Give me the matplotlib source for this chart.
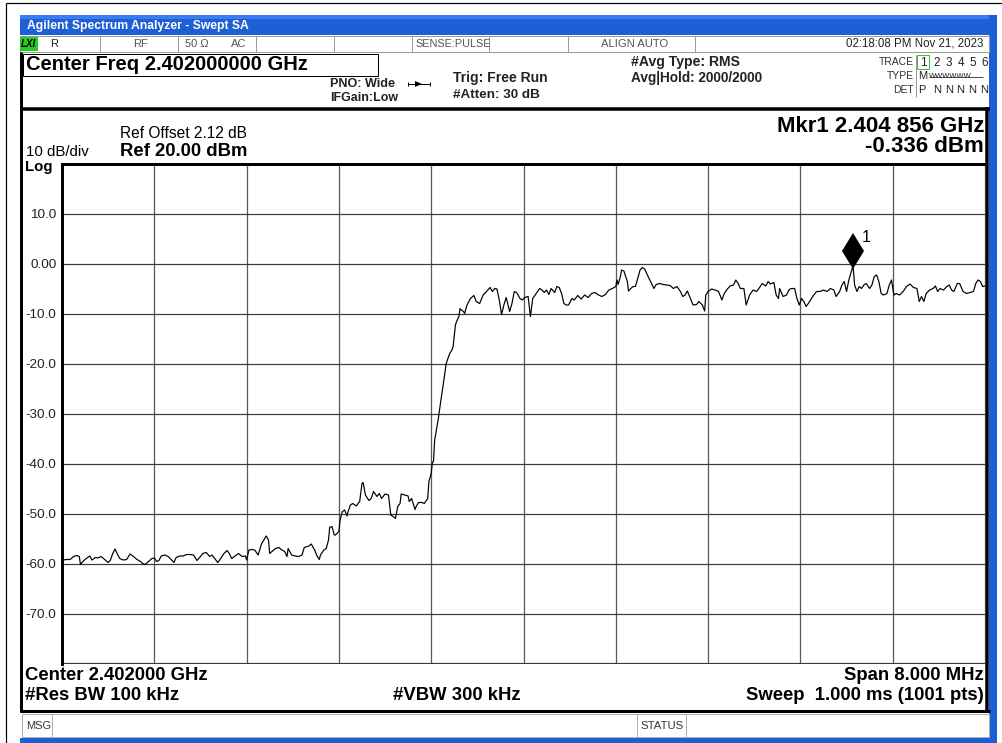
import matplotlib
matplotlib.use("Agg")
import matplotlib.pyplot as plt
from matplotlib.patches import Rectangle, Polygon

freq_mhz = [
    2398.00, 2398.01, 2398.04, 2398.07, 2398.10, 2398.13, 2398.15, 2398.16, 2398.18, 2398.21,
    2398.24, 2398.26, 2398.29, 2398.31, 2398.34, 2398.37, 2398.40, 2398.42, 2398.44, 2398.46,
    2398.48, 2398.50, 2398.53, 2398.56, 2398.59, 2398.62, 2398.65, 2398.68, 2398.70, 2398.72,
    2398.75, 2398.78, 2398.80, 2398.82, 2398.84, 2398.86, 2398.89, 2398.92, 2398.95, 2398.97,
    2398.99, 2399.02, 2399.05, 2399.08, 2399.11, 2399.14, 2399.17, 2399.20, 2399.22, 2399.25,
    2399.28, 2399.30, 2399.33, 2399.35, 2399.37, 2399.40, 2399.43, 2399.45, 2399.47, 2399.50,
    2399.53, 2399.56,
    2399.59, 2399.60, 2399.62, 2399.64, 2399.67, 2399.70, 2399.73, 2399.75, 2399.77, 2399.79,
    2399.80, 2399.82, 2399.85, 2399.88, 2399.90, 2399.93, 2399.95, 2399.96, 2399.99, 2400.02,
    2400.05, 2400.08, 2400.10, 2400.14, 2400.16, 2400.19, 2400.21, 2400.23, 2400.24, 2400.27,
    2400.29, 2400.31, 2400.32, 2400.34, 2400.36, 2400.37, 2400.40, 2400.41, 2400.43, 2400.45,
    2400.47, 2400.48, 2400.50, 2400.52, 2400.55, 2400.58, 2400.60, 2400.61, 2400.63, 2400.66,
    2400.68, 2400.70, 2400.73, 2400.75, 2400.77, 2400.80, 2400.83, 2400.85, 2400.87, 2400.89,
    2400.91, 2400.93, 2400.94, 2400.97, 2401.00, 2401.01, 2401.03, 2401.06, 2401.07, 2401.09,
    2401.12, 2401.14, 2401.17, 2401.18, 2401.20,
    2401.21, 2401.22, 2401.23, 2401.26, 2401.28, 2401.31, 2401.33, 2401.36, 2401.38, 2401.39,
    2401.41, 2401.42, 2401.44,
    2401.45, 2401.46, 2401.48, 2401.49, 2401.51, 2401.54, 2401.57, 2401.59, 2401.62, 2401.65,
    2401.68, 2401.71, 2401.73, 2401.75, 2401.77, 2401.79, 2401.81, 2401.83, 2401.85, 2401.88,
    2401.90, 2401.92, 2401.94, 2401.97, 2401.99, 2402.01, 2402.04, 2402.06, 2402.08, 2402.11,
    2402.14, 2402.16, 2402.18, 2402.20, 2402.22, 2402.24, 2402.27, 2402.29, 2402.31, 2402.33,
    2402.35, 2402.37, 2402.39, 2402.42, 2402.44, 2402.47, 2402.50, 2402.53, 2402.56, 2402.59,
    2402.62, 2402.65, 2402.68, 2402.71, 2402.74, 2402.77, 2402.80, 2402.81, 2402.82, 2402.84,
    2402.85, 2402.87, 2402.90, 2402.91, 2402.93, 2402.95, 2402.97, 2402.99, 2403.01, 2403.03,
    2403.05, 2403.08, 2403.11, 2403.13, 2403.15, 2403.18, 2403.21, 2403.24, 2403.27, 2403.30,
    2403.33, 2403.36, 2403.38, 2403.40, 2403.42, 2403.44, 2403.47, 2403.50, 2403.52, 2403.55,
    2403.57, 2403.58, 2403.60, 2403.63, 2403.66, 2403.69,
    2403.72, 2403.74, 2403.76, 2403.79, 2403.82, 2403.84, 2403.86, 2403.88, 2403.91, 2403.93,
    2403.96, 2403.99, 2404.02, 2404.04, 2404.07, 2404.10, 2404.12, 2404.14, 2404.17, 2404.19,
    2404.21, 2404.22, 2404.25, 2404.28, 2404.30, 2404.32, 2404.35, 2404.37, 2404.39, 2404.41,
    2404.43, 2404.45, 2404.48, 2404.51, 2404.54, 2404.57, 2404.60, 2404.63, 2404.66, 2404.69,
    2404.71, 2404.74, 2404.76, 2404.78, 2404.80, 2404.82, 2404.856, 2404.87, 2404.89, 2404.91,
    2404.93, 2404.95, 2404.97, 2405.00, 2405.02, 2405.04, 2405.06, 2405.08, 2405.10, 2405.12,
    2405.15, 2405.17, 2405.19, 2405.21, 2405.23, 2405.26, 2405.29, 2405.32, 2405.35, 2405.38,
    2405.41, 2405.43, 2405.45, 2405.47, 2405.49, 2405.52, 2405.55, 2405.57, 2405.59, 2405.61,
    2405.64, 2405.67, 2405.69, 2405.71, 2405.73, 2405.76, 2405.78, 2405.81, 2405.84, 2405.87,
    2405.90, 2405.92, 2405.94, 2405.96, 2405.98, 2406.00,
]
level_dbm = [
    -58.5, -59.2, -59.1, -59.1, -58.5, -58.3, -58.5, -60.1, -59.5, -58.9,
    -58.4, -59.2, -58.7, -58.8, -58.5, -59.1, -59.7, -59.2, -57.9, -57.0,
    -58.0, -58.9, -59.2, -59.1, -58.0, -58.5, -59.1, -59.5, -59.9, -60.1,
    -59.5, -58.9, -58.8, -59.5, -59.3, -58.4, -58.2, -58.5, -59.2, -59.7,
    -58.7, -58.4, -58.4, -58.1, -58.1, -58.2, -59.3, -58.5, -57.9, -57.7,
    -58.5, -58.2, -59.1, -59.7, -59.1, -58.0, -57.3, -57.9, -58.9, -58.4,
    -57.9, -58.5,
    -58.4, -59.2, -57.2, -57.1, -57.2, -58.2, -55.9, -55.2, -54.4, -55.2,
    -57.9, -57.5, -56.9, -56.7, -57.1, -57.5, -58.5, -56.9, -58.2, -58.4,
    -58.5, -58.2, -56.7, -56.4, -56.0, -57.2, -58.4, -59.1, -58.2, -57.2,
    -56.9, -55.2, -52.7, -52.5, -54.2, -54.2, -53.5, -51.2, -49.5, -49.2,
    -50.4, -49.5, -48.2, -47.9, -48.4, -47.5, -43.9, -43.7, -46.2, -47.3,
    -46.9, -45.5, -46.5, -45.9, -46.9, -46.0, -46.2, -50.2, -50.5, -50.9,
    -48.5, -47.9, -46.0, -46.2, -46.4, -47.5, -46.9, -49.1, -48.5, -47.7,
    -47.7, -47.9, -46.9, -43.5, -41.9,
    -39.7, -39.5, -35.2, -31.2, -27.9, -23.2, -19.9, -17.9, -17.2, -16.5,
    -12.2, -11.5, -10.5,
    -8.9, -9.2, -9.5, -9.9, -8.2, -6.9, -6.3, -7.5, -7.9, -6.2,
    -5.5, -4.7, -5.5, -4.9, -5.0, -7.2, -10.1, -8.2, -6.7, -9.5,
    -7.9, -5.5, -5.7, -6.9, -7.2, -6.7, -6.5, -10.5, -6.9, -5.9,
    -4.9, -5.2, -5.7, -5.2, -6.1, -4.9, -5.7, -4.5, -4.7, -5.9,
    -7.9, -8.2, -8.2, -6.9, -7.2, -6.3, -7.0, -6.2, -6.7, -5.9,
    -5.7, -6.2, -6.5, -6.1, -5.2, -4.9, -4.5, -3.2, -4.1, -2.5,
    -1.2, -1.4, -3.5, -5.4, -4.9, -4.5, -4.5, -2.9, -1.2, -0.7,
    -1.0, -2.5, -3.9, -4.9, -4.1, -3.9, -4.1, -4.2, -4.3, -4.9,
    -4.5, -5.5, -6.5, -6.2, -5.4, -6.5, -8.2, -8.1, -7.5, -8.2,
    -9.4, -6.2, -5.5, -5.0, -5.2, -5.5,
    -7.2, -5.9, -5.2, -4.4, -4.2, -3.2, -3.9, -4.9, -4.9, -8.2,
    -6.2, -5.2, -5.5, -4.9, -3.9, -4.4, -3.5, -4.0, -3.7, -6.2,
    -6.9, -4.9, -6.5, -6.2, -5.2, -4.9, -4.9, -6.9, -8.2, -6.9,
    -7.5, -8.5, -7.5, -6.4, -5.5, -5.5, -5.2, -5.5, -4.9, -5.2,
    -6.5, -5.5, -4.2, -3.5, -5.5, -3.2, -0.336, -4.2, -5.5, -4.5,
    -4.9, -4.2, -3.9, -4.9, -4.2, -2.5, -2.2, -3.5, -5.9, -6.2,
    -5.9, -4.2, -3.2, -6.2, -5.9, -6.2, -5.5, -4.5, -4.0, -4.7,
    -4.9, -7.5, -6.5, -7.5, -5.9, -5.2, -4.9, -4.4, -5.5, -4.9,
    -5.2, -4.5, -4.2, -5.2, -5.5, -3.9, -3.9, -5.5, -5.9, -5.7,
    -5.5, -3.9, -3.2, -3.5, -4.5, -4.4,
]
y_ticks = [10, 0, -10, -20, -30, -40, -50, -60, -70]
y_tick_labels = ["10.0", "0.00", "-10.0", "-20.0", "-30.0", "-40.0", "-50.0", "-60.0", "-70.0"]
x_grid_mhz = [2398.0, 2398.8, 2399.6, 2400.4, 2401.2, 2402.0, 2402.8, 2403.6, 2404.4, 2405.2, 2406.0]
marker_freq_mhz = 2404.856
marker_level_dbm = -0.336

# ---------------- layout ----------------
W, H = 1002, 743
FONT = ["Liberation Sans", "DejaVu Sans"]
plt.rcParams["font.family"] = FONT

fig = plt.figure(figsize=(W / 100, H / 100), dpi=100)
fig.patch.set_facecolor("white")
bg = fig.add_axes([0, 0, 1, 1])
bg.set_xlim(0, W)
bg.set_ylim(H, 0)
bg.axis("off")

PX = 0.72  # one pixel in points


def rect(x0, y0, x1, y1, fc="none", ec="none", lw=1.0, z=1):
    bg.add_patch(Rectangle((x0, y0), x1 - x0, y1 - y0, facecolor=fc,
                           edgecolor=ec, linewidth=lw * PX, zorder=z))


def hline(y, x0, x1, c="black", lw=1.0, z=2):
    bg.plot([x0, x1], [y, y], color=c, lw=lw * PX, zorder=z, solid_capstyle="butt")


def vline(x, y0, y1, c="black", lw=1.0, z=2):
    bg.plot([x, x], [y0, y1], color=c, lw=lw * PX, zorder=z, solid_capstyle="butt")


def txt(x, y, s, size, ha="left", va="center", weight="normal", color="black", z=5, **kw):
    bg.text(x, y, s, fontsize=size, ha=ha, va=va, fontweight=weight, color=color,
            zorder=z, **kw)


# outer page lines
hline(3, 6, W, lw=1.2)
vline(6, 3, H, lw=1.2)

# window blue frame
rect(20, 15, 997, 35, fc="#1f5fd6", z=1)
rect(20, 15, 997, 19, fc="#3b7df0", z=1)
rect(989, 15, 997, H, fc="#1f5fd6", z=1)
rect(20, 738, 997, H, fc="#1f5fd6", z=1)
txt(27, 25.5, "Agilent Spectrum Analyzer - Swept SA", 8.7, weight="bold", color="white")

# status row
rect(20, 36, 989, 52, fc="white", ec="#9a9a9a", lw=1, z=2)
rect(20, 37, 38, 51, fc="#22cc22", z=3)
txt(21, 44, "LXI", 7, weight="bold", style="italic", color="black")
for xs in [100, 178, 256, 334, 412, 489, 568, 695]:
    vline(xs, 36, 52, c="#9a9a9a")
txt(50, 44, "R", 8, color="#222222")
txt(133, 44, "RF", 8, color="#555555")
txt(185, 44, "50 Ω", 8, color="#555555")
txt(231, 44, "AC", 8, color="#555555")
txt(415, 44, "SENSE:PULSE", 7.8, color="#555555")
txt(601, 44, "ALIGN AUTO", 8.1, color="#555555")
txt(983, 44, "02:18:08 PM Nov 21, 2023", 8.3, ha="right", color="#222222")

# header area
rect(20, 52, 989, 108, fc="white", z=1)
vline(21.5, 52, 712, lw=3)
rect(23, 54, 378, 76, fc="white", ec="black", lw=1, z=2)
txt(26, 65, "Center Freq 2.402000000 GHz", 14.5, weight="bold")
txt(330, 84, "PNO: Wide", 9.1, weight="bold", color="#222222")
txt(330, 98, "IFGain:Low", 8.9, weight="bold", color="#222222")
hline(84, 408, 430, lw=1)
bg.add_patch(Polygon([[415, 81], [415, 87], [422, 84]], closed=True, fc="black", ec="none", zorder=3))
vline(408, 82, 86)
vline(430, 82, 86)
txt(453, 78, "Trig: Free Run", 10, weight="bold", color="#222222")
txt(453, 95, "#Atten: 30 dB", 9.7, weight="bold", color="#222222")
txt(631, 62, "#Avg Type: RMS", 10.1, weight="bold", color="#222222")
txt(631, 78, "Avg|Hold: 2000/2000", 9.8, weight="bold", color="#222222")
txt(914, 62, "TRACE", 7.5, ha="right", color="#333333")
txt(914, 76, "TYPE", 7.5, ha="right", color="#333333")
txt(914, 90, "DET", 7.5, ha="right", color="#333333")
vline(916, 55, 97, c="#9a9a9a")
rect(917, 55, 929, 69, fc="none", ec="#44bb44", lw=1, z=3)
txt(923, 62.5, "1", 8.5, ha="center", color="#222222")
for i, d in enumerate(["2", "3", "4", "5", "6"]):
    txt(937 + 11.8 * i, 62.5, d, 8.5, ha="center", color="#222222")
txt(918, 76, "M", 8, color="#222222")
txt(929, 76, "WWWWWW", 5.4, color="#222222")
hline(76.5, 929, 983, c="#222222", lw=0.8)
txt(918, 90, "P", 8, color="#222222")
for i in range(5):
    txt(937 + 11.8 * i, 90, "N", 8, ha="center", color="#222222")

# panel borders
hline(108.5, 20, 990, lw=3.5)
vline(987, 107, 712, lw=3.5)
hline(711, 20, 990, lw=3)

# graph texts
txt(26, 156, "10 dB/div", 10.8, va="baseline", color="black")
txt(25, 160, "Log", 10.8, va="top", weight="bold")
txt(120, 133, "Ref Offset 2.12 dB", 11.2)
txt(120, 151, "Ref 20.00 dBm", 13.3, weight="bold")
txt(984, 126, "Mkr1 2.404 856 GHz", 16, ha="right", weight="bold")
txt(984, 146, "-0.336 dBm", 16, ha="right", weight="bold")

# bottom texts
txt(25, 676, "Center 2.402000 GHz", 13.3, weight="bold")
txt(984, 676, "Span 8.000 MHz", 13.3, ha="right", weight="bold")
txt(25, 696, "#Res BW 100 kHz", 13.3, weight="bold")
txt(393, 696, "#VBW 300 kHz", 13.3, weight="bold")
txt(984, 696, "Sweep  1.000 ms (1001 pts)", 13.3, ha="right", weight="bold")

# message row
rect(22, 714, 989, 737, fc="white", ec="#b0b0b0", lw=1, z=2)
vline(52, 714, 737, c="#b0b0b0")
vline(637, 714, 737, c="#b0b0b0")
vline(686, 714, 737, c="#b0b0b0")
txt(26, 726, "MSG", 8, color="#333333")
txt(640, 726, "STATUS", 8.2, color="#333333")

# ---------------- trace axes ----------------
L, R, T, B = 62, 985, 164, 664
ax = fig.add_axes([L / W, 1 - B / H, (R - L) / W, (B - T) / H])
ax.set_facecolor("none")
ax.set_xlim(2398.0, 2406.0)
ax.set_ylim(-80, 20)
for s in ["right", "bottom"]:
    ax.spines[s].set_visible(False)
ax.spines["top"].set_linewidth(3 * PX)
ax.spines["left"].set_linewidth(3 * PX)
for g in x_grid_mhz[1:]:
    ax.axvline(g, color="#5a5a5a", lw=1.3 * PX, zorder=1)
for g in [10, 0, -10, -20, -30, -40, -50, -60, -70, -79.85]:
    ax.axhline(g, color="#3a3a3a", lw=1.2 * PX, zorder=1)
ax.set_yticks(y_ticks)
ax.set_yticklabels(y_tick_labels)
ax.set_xticks([])
ax.tick_params(axis="y", length=0, pad=4, labelsize=9.7, labelcolor="#222222")
ax.plot(freq_mhz, level_dbm, color="black", lw=1.0 * PX * 1.2, zorder=3)
ax.plot([marker_freq_mhz], [marker_level_dbm + 2.9], marker="d", color="black",
        markersize=18, markeredgewidth=0, zorder=4)
ax.text(marker_freq_mhz + 0.08, marker_level_dbm + 4.8, "1", fontsize=11.5, zorder=4)

fig.savefig("out.png", dpi=100, facecolor="white")
